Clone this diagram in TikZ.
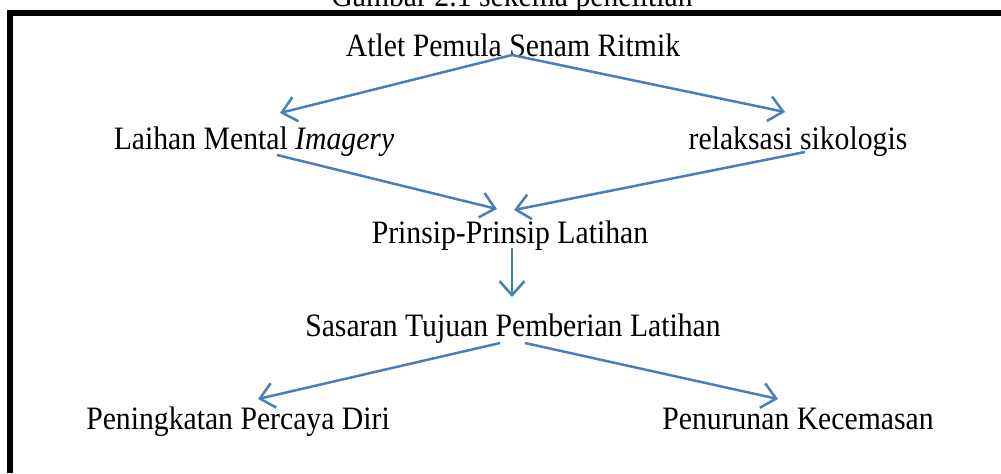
\documentclass[tikz,border=0pt]{standalone}
\usepackage{fontspec}
\setmainfont{Liberation Serif}
\usetikzlibrary{arrows.meta}
\definecolor{arrowblue}{RGB}{74,126,187}
\newcommand\tallt[1]{\scalebox{1}[1.1]{#1}}
\begin{document}
\begin{tikzpicture}[x=0.5pt,y=-0.5pt,
  lbl/.style={inner sep=0pt,anchor=base,font=\fontsize{14.85}{18}\selectfont},
  conn/.style={draw=arrowblue,line width=1.25pt,-{Straight Barb[length=7pt,width=12.5pt]}}]
\useasboundingbox (0,0) rectangle (1001,473);
\fill[white] (0,0) rectangle (1001,473);
% frame
\draw[line width=3pt] (10,473) -- (10,13) -- (1010,13);
% title (cut off by page, as in the reference)
\node[lbl] (title) at (512,6) {\tallt{Gambar 2.1 sekema penelitian}};
% nodes
\node[lbl] (atlet) at (513,56) {\tallt{Atlet Pemula Senam Ritmik}};
\node[lbl] (mental) at (254,149) {\tallt{Laihan Mental \textit{Imagery}}};
\node[lbl] (relaks) at (798,149) {\tallt{relaksasi sikologis}};
\node[lbl] (prinsip) at (510,243) {\tallt{Prinsip-Prinsip Latihan}};
\node[lbl] (sasaran) at (513,336) {\tallt{Sasaran Tujuan Pemberian Latihan}};
\node[lbl] (percaya) at (238,429) {\tallt{Peningkatan Percaya Diri}};
\node[lbl] (cemas) at (798,429) {\tallt{Penurunan Kecemasan}};
% connector end points
\coordinate (a0) at (512,55);
\coordinate (a1) at (280,113);
\coordinate (a2) at (785,112);
\coordinate (m0) at (277,155);
\coordinate (r0) at (805,152);
\coordinate (p1) at (497,209);
\coordinate (p2) at (514,210);
\coordinate (pv0) at (512,248);
\coordinate (pv1) at (512,297);
\coordinate (s1) at (500,343);
\coordinate (s2) at (525,343);
\coordinate (b1) at (258,399);
\coordinate (b2) at (778,399);
\draw[conn] (a0) -- (a1);
\draw[conn] (a0) -- (a2);
\draw[conn] (m0) -- (p1);
\draw[conn] (r0) -- (p2);
\draw[conn] (pv0) -- (pv1);
\draw[conn] (s1) -- (b1);
\draw[conn] (s2) -- (b2);
\end{tikzpicture}
\end{document}
